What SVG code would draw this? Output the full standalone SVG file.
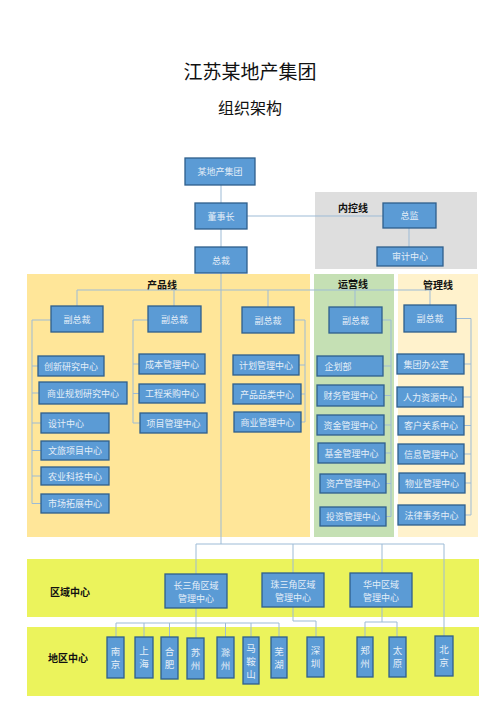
<svg xmlns="http://www.w3.org/2000/svg" width="500" height="707" viewBox="0 0 500 707">
<style>
.b{fill:#5B9BD5;stroke:#2F5F8C;stroke-width:1.3}
.t{font-family:"Noto Sans CJK SC","Noto Sans",sans-serif;font-size:9px;fill:#E4EEF8;text-anchor:middle;dominant-baseline:central}
.v{font-family:"Noto Sans CJK SC","Noto Sans",sans-serif;font-size:9.5px;fill:#E4EEF8;text-anchor:middle;dominant-baseline:central}
.h{font-family:"Noto Sans CJK SC","Noto Sans",sans-serif;font-size:10px;font-weight:bold;fill:#111;text-anchor:middle;dominant-baseline:central}
.c{fill:none;stroke:#9DBBD6;stroke-width:1}
</style>
<rect width="500" height="707" fill="#FFFFFF"/>
<g id="backgrounds">
<rect x="315" y="192" width="162" height="77" fill="#DEDEDE"/>
<rect x="27" y="274" width="283" height="263" fill="#FFE699"/>
<rect x="314" y="274" width="80" height="263" fill="#C5E0B4"/>
<rect x="398" y="274" width="80" height="263" fill="#FFF2CC"/>
<rect x="27" y="559" width="452" height="58" fill="#EBF35C"/>
<rect x="27" y="627" width="452" height="69" fill="#EBF35C"/>
</g>
<g id="titles">
<text x="250" y="70" font-family="'Noto Sans CJK SC',sans-serif" font-size="19" text-anchor="middle" dominant-baseline="central" fill="#111">江苏某地产集团</text>
<text x="250" y="107" font-family="'Noto Sans CJK SC',sans-serif" font-size="16" text-anchor="middle" dominant-baseline="central" fill="#111">组织架构</text>
<text class="h" x="353" y="207">内控线</text>
<text class="h" x="162" y="284">产品线</text>
<text class="h" x="353" y="283">运营线</text>
<text class="h" x="438" y="284">管理线</text>
<text class="h" x="70" y="591">区域中心</text>
<text class="h" x="68" y="657">地区中心</text>
</g>
<g id="connectors">
<path class="c" d="M221,185V203M221,229V247M221,273V544"/>
<path class="c" d="M247,216H383M409,228V247"/>
<path class="c" d="M77,290H430M77,290V306M174,290V306M268,290V307M355,290V307M430,290V305"/>
<path class="c" d="M51,320H32V503.5M32,366H38M32,393H39M32,423H41M32,450.5H41M32,476H41M32,503.5H41"/>
<path class="c" d="M148,320H133V423M133,364H139M133,393.5H139M133,423H140"/>
<path class="c" d="M294,320H305V422M299,365H305M301,394H305M301,422H305"/>
<path class="c" d="M382,320H391V516.5M383,366H391M384,395.5H391M384,425H391M385,453H391M386,483.5H391M386,516.5H391"/>
<path class="c" d="M456,318.5H471V515M464,364H471M463,397H471M464,425.5H471M464,454H471M465,483H471M465,515H471"/>
<path class="c" d="M196,544H444M196,544V574M293,544V573M382,544V573M444,544V636"/>
<path class="c" d="M196,608V623M116,623H279M116,623V637M144,623V637M169.5,623V637M196,623V638M225.5,623V637M251,623V637M279,623V637"/>
<path class="c" d="M293,607V621H316V637"/>
<path class="c" d="M382,607V622M365,622H397M365,622V637M397,622V637"/>
</g>
<g id="n_group"><rect class="b" x="185" y="158" width="70" height="27"/><text class="t" x="220" y="171.5">某地产集团</text></g>
<g id="n_chairman"><rect class="b" x="195" y="203" width="52" height="26"/><text class="t" x="221" y="216">董事长</text></g>
<g id="n_president"><rect class="b" x="195" y="247" width="52" height="26"/><text class="t" x="221" y="260">总裁</text></g>
<g id="n_director"><rect class="b" x="383" y="203" width="53" height="25"/><text class="t" x="409.5" y="215.5">总监</text></g>
<g id="n_audit"><rect class="b" x="377" y="247" width="66" height="19"/><text class="t" x="410" y="256.5">审计中心</text></g>
<g id="n_vp1"><rect class="b" x="51" y="306" width="52" height="26"/><text class="t" x="77" y="319">副总裁</text></g>
<g id="n_vp2"><rect class="b" x="148" y="306" width="53" height="26"/><text class="t" x="174.5" y="319">副总裁</text></g>
<g id="n_vp3"><rect class="b" x="242" y="307" width="52" height="26"/><text class="t" x="268" y="320">副总裁</text></g>
<g id="n_vp4"><rect class="b" x="329" y="307" width="53" height="26"/><text class="t" x="355.5" y="320">副总裁</text></g>
<g id="n_vp5"><rect class="b" x="404" y="305" width="52" height="27"/><text class="t" x="430" y="318.5">副总裁</text></g>
<g id="n_p1"><rect class="b" x="38" y="356" width="66" height="20"/><text class="t" x="71" y="366">创新研究中心</text></g>
<g id="n_p2"><rect class="b" x="39" y="382" width="88" height="22"/><text class="t" x="83" y="393">商业规划研究中心</text></g>
<g id="n_p3"><rect class="b" x="41" y="413" width="68" height="20"/><text class="t" x="66" y="423">设计中心</text></g>
<g id="n_p4"><rect class="b" x="41" y="441" width="68" height="19"/><text class="t" x="75" y="450.5">文旅项目中心</text></g>
<g id="n_p5"><rect class="b" x="41" y="467" width="68" height="18"/><text class="t" x="75" y="476">农业科技中心</text></g>
<g id="n_p6"><rect class="b" x="41" y="494" width="68" height="19"/><text class="t" x="75" y="503.5">市场拓展中心</text></g>
<g id="n_q1"><rect class="b" x="139" y="354" width="66" height="20"/><text class="t" x="172" y="364">成本管理中心</text></g>
<g id="n_q2"><rect class="b" x="139" y="384" width="66" height="19"/><text class="t" x="172" y="393.5">工程采购中心</text></g>
<g id="n_q3"><rect class="b" x="140" y="413" width="67" height="20"/><text class="t" x="173.5" y="423">项目管理中心</text></g>
<g id="n_r1"><rect class="b" x="233" y="355" width="66" height="20"/><text class="t" x="266" y="365">计划管理中心</text></g>
<g id="n_r2"><rect class="b" x="233" y="384" width="68" height="20"/><text class="t" x="267" y="394">产品品类中心</text></g>
<g id="n_r3"><rect class="b" x="234" y="412" width="67" height="20"/><text class="t" x="267.5" y="422">商业管理中心</text></g>
<g id="n_o1"><rect class="b" x="317" y="356" width="66" height="20"/><text class="t" x="338" y="366">企划部</text></g>
<g id="n_o2"><rect class="b" x="317" y="385" width="67" height="21"/><text class="t" x="350.5" y="395.5">财务管理中心</text></g>
<g id="n_o3"><rect class="b" x="317" y="415" width="67" height="20"/><text class="t" x="350.5" y="425">资金管理中心</text></g>
<g id="n_o4"><rect class="b" x="318" y="443" width="67" height="20"/><text class="t" x="351.5" y="453">基金管理中心</text></g>
<g id="n_o5"><rect class="b" x="320" y="474" width="66" height="19"/><text class="t" x="353" y="483.5">资产管理中心</text></g>
<g id="n_o6"><rect class="b" x="320" y="507" width="66" height="19"/><text class="t" x="353" y="516.5">投资管理中心</text></g>
<g id="n_m1"><rect class="b" x="397" y="354" width="67" height="20"/><text class="t" x="426" y="364">集团办公室</text></g>
<g id="n_m2"><rect class="b" x="397" y="387" width="66" height="20"/><text class="t" x="430" y="397">人力资源中心</text></g>
<g id="n_m3"><rect class="b" x="398" y="416" width="66" height="19"/><text class="t" x="431" y="425.5">客户关系中心</text></g>
<g id="n_m4"><rect class="b" x="398" y="444" width="66" height="20"/><text class="t" x="431" y="454">信息管理中心</text></g>
<g id="n_m5"><rect class="b" x="399" y="473" width="66" height="20"/><text class="t" x="432" y="483">物业管理中心</text></g>
<g id="n_m6"><rect class="b" x="398" y="505" width="67" height="20"/><text class="t" x="431.5" y="515">法律事务中心</text></g>
<g id="n_yrd"><rect class="b" x="165" y="574" width="62" height="34"/><text class="t" x="196" y="585">长三角区域</text><text class="t" x="196" y="598">管理中心</text></g>
<g id="n_prd"><rect class="b" x="262" y="573" width="62" height="34"/><text class="t" x="293" y="584">珠三角区域</text><text class="t" x="293" y="597">管理中心</text></g>
<g id="n_cc"><rect class="b" x="350" y="573" width="62" height="34"/><text class="t" x="381" y="584">华中区域</text><text class="t" x="381" y="597">管理中心</text></g>
<g id="n_nanjing"><rect class="b" x="107" y="637" width="17" height="41"/><text class="v" x="115.5" y="651">南</text><text class="v" x="115.5" y="664">京</text></g>
<g id="n_shanghai"><rect class="b" x="135" y="637" width="18" height="41"/><text class="v" x="144" y="650">上</text><text class="v" x="144" y="663">海</text></g>
<g id="n_hefei"><rect class="b" x="161" y="637" width="17" height="42"/><text class="v" x="169.5" y="651">合</text><text class="v" x="169.5" y="664">肥</text></g>
<g id="n_suzhou"><rect class="b" x="187" y="638" width="17" height="41"/><text class="v" x="195.5" y="652">苏</text><text class="v" x="195.5" y="665">州</text></g>
<g id="n_chuzhou"><rect class="b" x="217" y="637" width="17" height="41"/><text class="v" x="225.5" y="652">滁</text><text class="v" x="225.5" y="665">州</text></g>
<g id="n_maanshan"><rect class="b" x="243" y="637" width="16" height="47"/><text class="v" x="251" y="648">马</text><text class="v" x="251" y="661">鞍</text><text class="v" x="251" y="674">山</text></g>
<g id="n_wuhu"><rect class="b" x="271" y="637" width="16" height="41"/><text class="v" x="279" y="651">芜</text><text class="v" x="279" y="664">湖</text></g>
<g id="n_shenzhen"><rect class="b" x="307" y="637" width="17" height="40"/><text class="v" x="315.5" y="650">深</text><text class="v" x="315.5" y="663">圳</text></g>
<g id="n_zhengzhou"><rect class="b" x="357" y="637" width="16" height="40"/><text class="v" x="365" y="650">郑</text><text class="v" x="365" y="663">州</text></g>
<g id="n_taiyuan"><rect class="b" x="389" y="637" width="17" height="40"/><text class="v" x="397.5" y="650">太</text><text class="v" x="397.5" y="663">原</text></g>
<g id="n_beijing"><rect class="b" x="435" y="636" width="18" height="40"/><text class="v" x="444" y="649">北</text><text class="v" x="444" y="662">京</text></g>
</svg>
